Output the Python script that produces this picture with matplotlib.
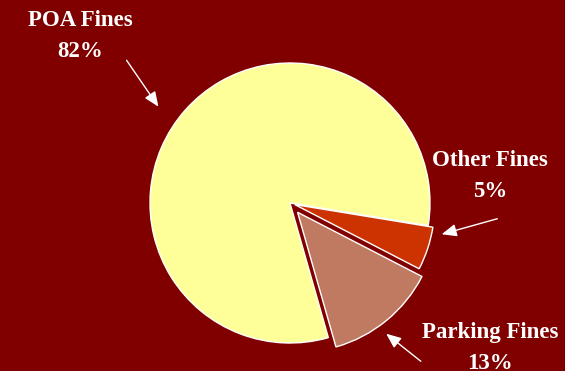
import matplotlib
matplotlib.use("Agg")
import matplotlib.pyplot as plt

# fine revenue shares
labels = ["Parking Fines", "Other Fines", "POA Fines"]
shares = [13, 5, 82]
colors = ["#C07A62", "#CC3300", "#FFFF99"]

BG = "#800000"
W, H = 565, 371
R = 140
# pie offsets are in data units (pixels here)
explode = [12, 5, 0]

fig = plt.figure(figsize=(W / 100, H / 100), dpi=100, facecolor=BG)
ax = fig.add_axes([0, 0, 1, 1])
ax.set_facecolor(BG)

# y axis runs downward, so flip the sweep to keep the slices in place
ax.pie(shares, colors=colors, explode=explode, center=(290, 203), radius=R,
       startangle=74.1, counterclock=False,
       wedgeprops=dict(edgecolor="white", linewidth=1.0))
ax.set_xlim(0, W)
ax.set_ylim(H, 0)
ax.set_aspect("equal")
ax.axis("off")

font = dict(family="Liberation Serif", fontweight="bold", color="white",
            fontsize=16.5, ha="center", va="center", linespacing=1.6)
arrow = dict(arrowstyle="-|>,head_length=0.9,head_width=0.38", color="white", lw=1.0)

ax.text(80, 36, "POA Fines\n82%", **font)
ax.annotate("", xy=(160, 109), xytext=(125, 58), arrowprops=arrow)

ax.text(490, 176, "Other Fines\n5%", **font)
ax.annotate("", xy=(439, 235), xytext=(500, 218), arrowprops=arrow)

ax.text(490, 348, "Parking Fines\n13%", **font)
ax.annotate("", xy=(384, 332), xytext=(423, 363), arrowprops=arrow)

fig.savefig("out.png", dpi=100, facecolor=BG)
